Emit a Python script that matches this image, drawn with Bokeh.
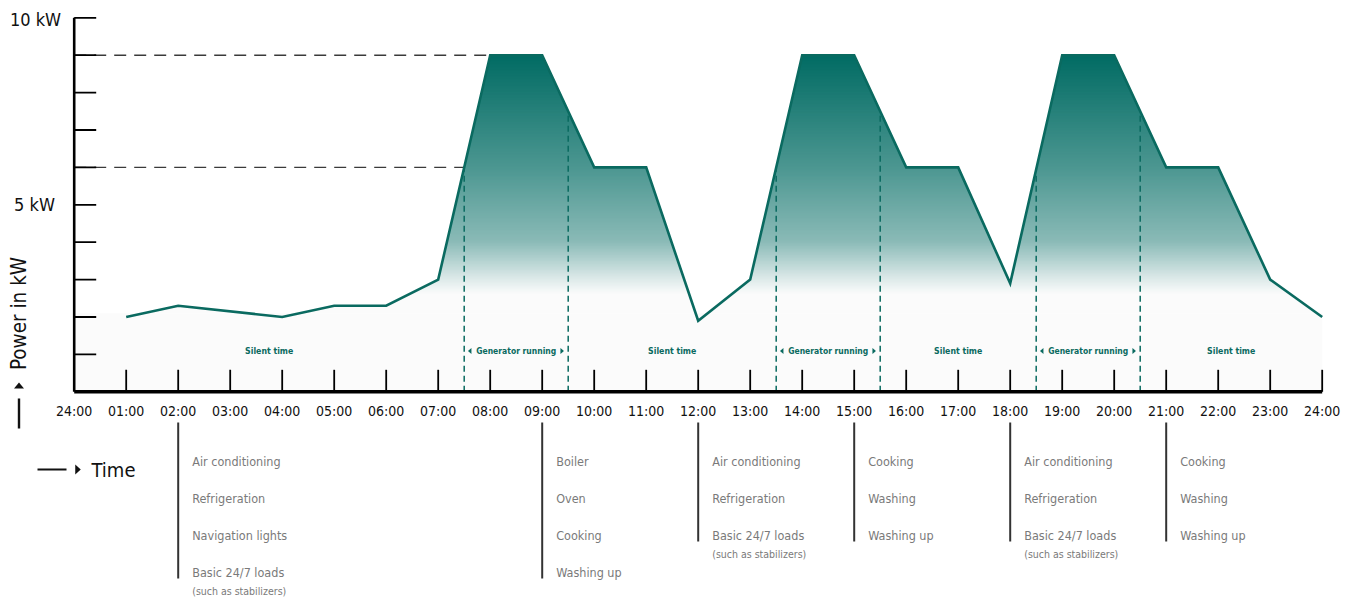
import numpy as np
from bokeh.plotting import figure
from bokeh.models import Range1d
from bokeh.core.properties import value
from bokeh.embed import file_html
from bokeh.resources import INLINE

# ---------------- data ----------------
hours = [1, 2, 4, 5, 6, 7, 8, 9, 10, 11, 12, 13, 14, 15, 16, 17, 18, 19, 20, 21, 22, 23, 24]
power_kw = [2.0, 2.3, 2.0, 2.3, 2.3, 3.0, 9.0, 9.0, 6.0, 6.0, 1.9, 3.0, 9.0, 9.0,
            6.0, 6.0, 2.9, 9.0, 9.0, 6.0, 6.0, 3.0, 2.0]
tick_hours = list(range(25))
tick_labels = ["24:00"] + ["%02d:00" % h for h in range(1, 25)]
y_tick_values = list(range(1, 11))
y_label_texts = ["10 kW", "5 kW"]
reference_levels = [9.0, 6.0]
generator_on = [7.5, 13.5, 18.5]
generator_off = [9.5, 15.5, 20.5]
silent_periods = [(0, 7.5), (9.5, 13.5), (15.5, 18.5), (20.5, 24)]
load_hours = [2, 9, 12, 15, 18, 21]
load_items = [
    ["Air conditioning", "Refrigeration", "Navigation lights", "Basic 24/7 loads"],
    ["Boiler", "Oven", "Cooking", "Washing up"],
    ["Air conditioning", "Refrigeration", "Basic 24/7 loads"],
    ["Cooking", "Washing", "Washing up"],
    ["Air conditioning", "Refrigeration", "Basic 24/7 loads"],
    ["Cooking", "Washing", "Washing up"],
]
load_notes = ["(such as stabilizers)", "", "(such as stabilizers)", "",
              "(such as stabilizers)", ""]

# ---------------- layout helpers (page pixels -> data) ----------------
W, H = 1350, 599
OFF = 0                 # page offset of the canvas
X0, XS = 73.7, 52.0     # page x of hour 0, px per hour
Y0, YS = 391.3, 37.4    # page y of 0 kW, px per kW


def X(px):
    return (px - X0) / XS


def Y(py):
    return (Y0 - py) / YS


DX = 1.0 / XS
DY = 1.0 / YS

TEAL = "#006b63"
LINE = "#0a6a60"
BASE = "#fbfbfb"
FONT = value("'DejaVu Sans Condensed', 'Liberation Sans', sans-serif")

p = figure(width=W, height=H,
           x_range=Range1d(X(OFF), X(OFF + W)), y_range=Range1d(Y(OFF + H), Y(OFF)),
           output_backend="svg", toolbar_location=None,
           x_axis_location=None, y_axis_location=None, min_border=0,
           outline_line_color=None, background_fill_color="white",
           border_fill_color="white")
p.title.visible = False
p.grid.visible = False

# light band
band_top = 2.1
p.varea(x=[0, 24], y1=[0, 0], y2=[band_top, band_top], fill_color=BASE)


# gradient fill under the curve (stacked strips)
def hex2rgb(h):
    h = h.lstrip("#")
    return np.array([int(h[i:i + 2], 16) for i in (0, 2, 4)], dtype=float)


c0, c1 = hex2rgb(BASE), hex2rgb(TEAL)
stop_lv = [2.1, 2.6, 3.0, 4.0, 6.0, 9.0]
stop_fr = [0.0, 0.0, 0.12, 0.45, 0.70, 1.0]


def clip_above(xs, ys, a):
    ox, oy = [], []
    for i in range(len(xs)):
        if i > 0:
            y0, y1 = ys[i - 1], ys[i]
            if (y0 - a) * (y1 - a) < 0:
                t = (a - y0) / (y1 - y0)
                ox.append(xs[i - 1] + t * (xs[i] - xs[i - 1]))
                oy.append(a)
        ox.append(xs[i])
        oy.append(max(ys[i], a))
    return ox, oy


levels = np.arange(band_top, max(power_kw), 0.04)
for a in levels:
    f = np.interp(a, stop_lv, stop_fr)
    c = c0 * (1 - f) + c1 * f
    col = "#%02x%02x%02x" % tuple(int(round(v)) for v in c)
    ox, oy = clip_above(hours, power_kw, a)
    p.varea(x=ox, y1=[a] * len(ox), y2=oy, fill_color=col)

# reference dashed lines
i0, i1 = power_kw.index(3.0), power_kw.index(9.0)
rise_x, rise_y = hours[i0:i1 + 1], power_kw[i0:i1 + 1]
for lv in reference_levels:
    xe = float(np.interp(lv, rise_y, rise_x))
    p.line([0, xe], [lv, lv], line_color="#3a3a3a", line_width=1.4, line_dash="12 8")

# generator on/off vertical dashed lines
for hx in generator_on + generator_off:
    top = float(np.interp(hx, hours, power_kw))
    p.line([hx, hx], [0, top], line_color=LINE, line_width=1.5, line_dash="6 4")

# main curve
p.line(hours, power_kw, line_color=LINE, line_width=2.6, line_join="miter")

# axes
p.line([0, 0], [0, 10], line_color="black", line_width=2.6)
p.segment(x0=[0] * len(y_tick_values), y0=y_tick_values,
          x1=[22 * DX] * len(y_tick_values), y1=y_tick_values,
          line_color="black", line_width=1.8)
p.segment(x0=tick_hours[1:], y0=[0] * 24, x1=tick_hours[1:], y1=[22 * DY] * 24,
          line_color="black", line_width=1.8)
p.line([0, 24], [0, 0], line_color="black", line_width=3.4)

# tick labels
p.text(x=tick_hours, y=[Y(410.5)] * 25, text=tick_labels, text_font=FONT,
       text_font_size="14px", text_align="center", text_baseline="middle",
       text_color="#111111")
p.text(x=[X(35), X(34)], y=[Y(18.5), Y(203.5)], text=y_label_texts,
       text_font=FONT, text_font_size="18px", text_align="center",
       text_baseline="middle", text_color="#111111")

# phase labels
sx = [(a + b) / 2 for a, b in silent_periods]
p.text(x=sx, y=[Y(350.5)] * len(sx), text=["Silent time"] * len(sx),
       text_font=FONT, text_font_style="bold", text_font_size="8.7px",
       text_align="center", text_baseline="middle", text_color=LINE)
gx = [(a + b) / 2 for a, b in zip(generator_on, generator_off)]
p.text(x=gx, y=[Y(350.5)] * len(gx), text=["Generator running"] * len(gx),
       text_font=FONT, text_font_style="bold", text_font_size="8.5px",
       text_align="center", text_baseline="middle", text_color=LINE)


def tri(cx, cy, direction, length, width):
    # cx, cy in data; length/width in px
    if direction == "left":
        xs = [cx - length / 2 * DX, cx + length / 2 * DX, cx + length / 2 * DX]
        ys = [cy, cy + width / 2 * DY, cy - width / 2 * DY]
    elif direction == "right":
        xs = [cx + length / 2 * DX, cx - length / 2 * DX, cx - length / 2 * DX]
        ys = [cy, cy + width / 2 * DY, cy - width / 2 * DY]
    else:  # up
        xs = [cx - width / 2 * DX, cx + width / 2 * DX, cx]
        ys = [cy - length / 2 * DY, cy - length / 2 * DY, cy + length / 2 * DY]
    return xs, ys


txs, tys = [], []
for a, b in zip(generator_on, generator_off):
    t1 = tri(a + 5.5 * DX, Y(350.5), "left", 3.5, 6)
    t2 = tri(b - 6 * DX, Y(350.5), "right", 3.5, 6)
    txs += [t1[0], t2[0]]
    tys += [t1[1], t2[1]]
p.patches(txs, tys, fill_color=LINE, line_color=None)

# axis titles
p.text(x=[X(18.5)], y=[Y(313)], text=["Power in kW"], angle=np.pi / 2,
       text_font=FONT, text_font_size="20.5px", text_align="center",
       text_baseline="middle", text_color="#111111")
ux, uy = tri(X(18.5), Y(385), "up", 6, 10)
rx, ry = tri(X(77.5), Y(469), "right", 5.5, 10)
p.patches([ux, rx], [uy, ry], fill_color="#111111", line_color=None)
p.line([X(18.5), X(18.5)], [Y(398), Y(428)], line_color="#111111", line_width=2.4)
p.line([X(37), X(66)], [Y(469), Y(469)], line_color="#111111", line_width=2)
p.text(x=[X(91)], y=[Y(469)], text=["Time"], text_font=FONT,
       text_font_size="20px", text_align="left", text_baseline="middle",
       text_color="#111111")

# load annotations
row_y = [461, 498, 535, 572]
tx, ty, tt, nx, ny, nt = [], [], [], [], [], []
lx0, ly0, ly1 = [], [], []
for hx, items, note in zip(load_hours, load_items, load_notes):
    for i, it in enumerate(items):
        tx.append(hx + 14 * DX)
        ty.append(Y(row_y[i]))
        tt.append(it)
    lx0.append(hx)
    ly0.append(Y(422))
    ly1.append(Y(row_y[len(items) - 1] + 6))
    if note:
        nx.append(hx + 14 * DX)
        ny.append(Y(row_y[len(items) - 1] + 18.5))
        nt.append(note)
p.segment(x0=lx0, y0=ly0, x1=lx0, y1=ly1, line_color="#333333", line_width=2)
p.text(x=tx, y=ty, text=tt, text_font=FONT, text_font_size="12.5px",
       text_align="left", text_baseline="middle", text_color="#7a7a7a")
p.text(x=nx, y=ny, text=nt, text_font=FONT, text_font_size="10.5px",
       text_align="left", text_baseline="middle", text_color="#7a7a7a")

open("out.html", "w").write(file_html(p, INLINE))
